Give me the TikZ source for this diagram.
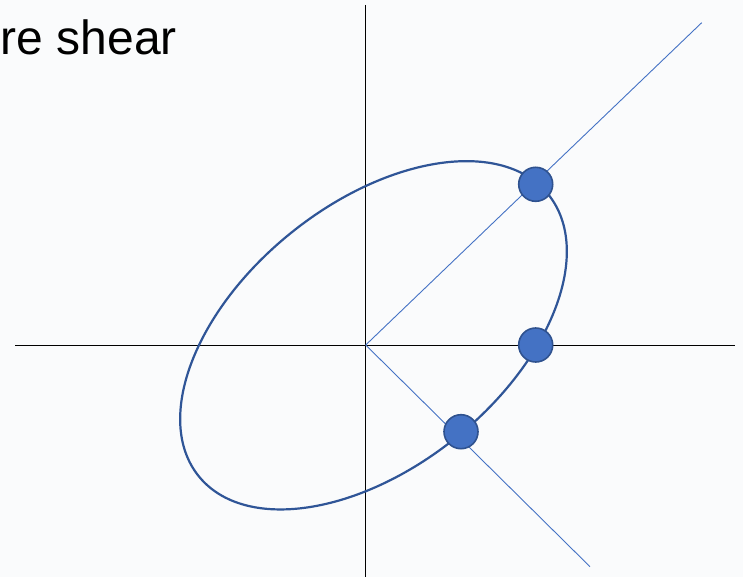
\documentclass[tikz,border=0pt]{standalone}
\usepackage{fontspec}
\setmainfont{Liberation Sans}
\definecolor{bgc}{RGB}{250,251,252}
\definecolor{dotfill}{RGB}{68,114,196}
\definecolor{dotedge}{RGB}{47,82,143}
\definecolor{ellc}{RGB}{47,85,151}
\begin{document}
\begin{tikzpicture}[x=1pt,y=-1pt,
  axis/.style={draw=black,line width=1pt},
  ray/.style={draw=dotfill,line width=0.9pt},
  ell/.style={draw=ellc,line width=2.2pt},
  dotnode/.style={circle,fill=dotfill,draw=dotedge,line width=1.6pt,minimum size=34pt,inner sep=0pt}]
\fill[bgc] (0,0) rectangle (743,577);
\useasboundingbox (0,0) rectangle (743,577);
\node[anchor=base west,inner sep=0pt,font=\fontsize{48}{52}\selectfont] (title) at (0.5,54.5) {re shear};
\coordinate (O) at (365.7,345);
\coordinate (vt) at (365.7,5);
\coordinate (vb) at (365.7,577);
\coordinate (hl) at (15,345);
\coordinate (hr) at (735,345);
\coordinate (r1) at (701.7,22.7);
\coordinate (r2) at (590,566.7);
\coordinate (c) at (373.5,335.3);
\draw[axis] (vt) -- (vb);
\draw[axis] (hl) -- (hr);
\draw[ray] (O) -- (r1);
\draw[ray] (O) -- (r2);
\draw[ell,rotate around={38.86:(c)}] (c) ellipse (224.5 and 131.5);
\node[dotnode] (d1) at (535.7,184.3) {};
\node[dotnode] (d2) at (535.7,345) {};
\node[dotnode] (d3) at (461,431.7) {};
\end{tikzpicture}
\end{document}
